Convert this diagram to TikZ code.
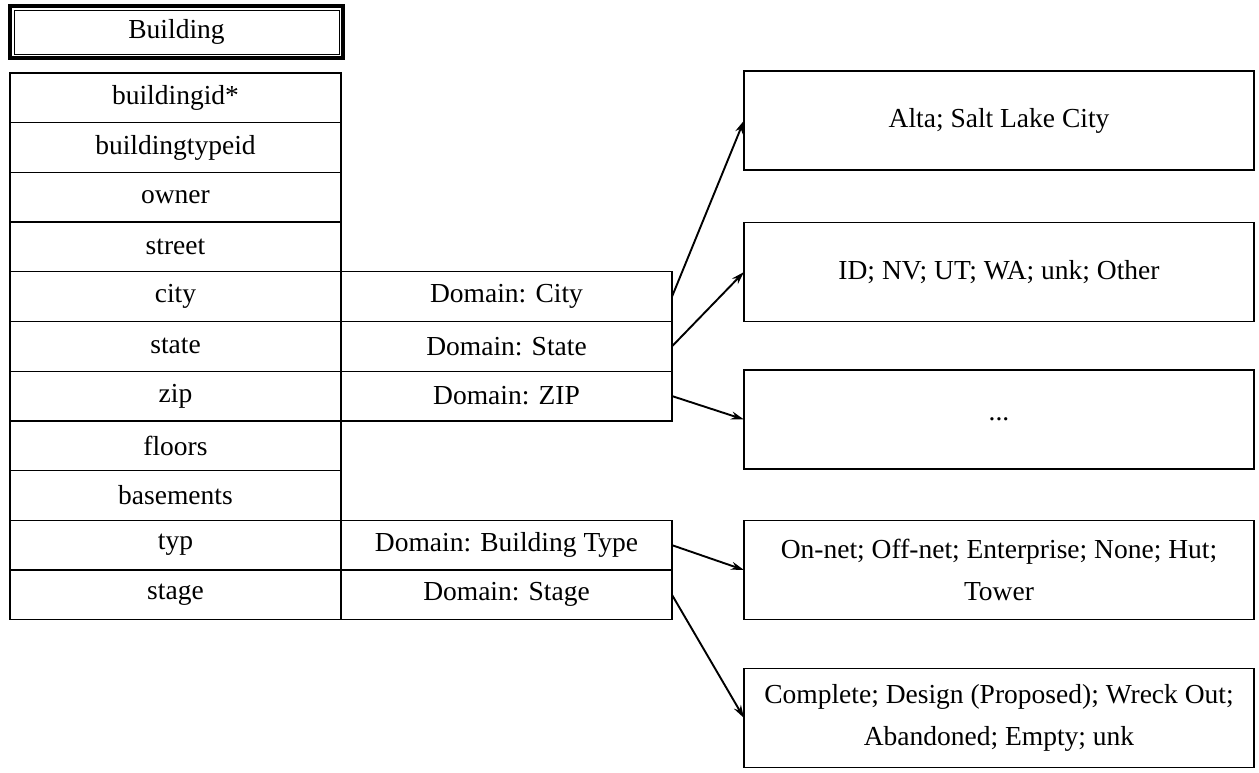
\documentclass[tikz,border=0pt]{standalone}
\usepackage{fontspec}
\setmainfont{Liberation Serif}
\usetikzlibrary{arrows.meta}

\begin{document}
\begin{tikzpicture}[x=1pt,y=-1pt]
\tikzset{field/.style={draw,rectangle,line width=1.3pt,outer sep=0pt,inner sep=0pt,minimum width=331pt,minimum height=49.7pt,font=\fontsize{27.5}{40}\selectfont}}
\tikzset{valbox/.style={draw,rectangle,line width=1.6pt,outer sep=0pt,inner sep=0pt,minimum width=510pt,minimum height=99pt,align=center,font=\fontsize{27.5}{42}\selectfont}}
\tikzset{link/.style={line width=1.9pt,-{Stealth[length=13pt,width=8pt]}}}
\useasboundingbox (0,0) rectangle (1259,772);

\node (title) at (176.5,32) [draw,line width=4pt,outer sep=0pt,minimum width=333pt,minimum height=52pt,font=\fontsize{27.5}{40}\selectfont] {Building};
\draw[line width=1pt] ([shift={(4,4)}]title.north west) rectangle ([shift={(-4,-4)}]title.south east);

\node (f1) at (175.5,97.85) [field] {buildingid*};
\node (f2) at (175.5,147.55) [field] {buildingtypeid};
\node (f3) at (175.5,197.25) [field] {owner};
\node (f4) at (175.5,246.95) [field] {street};
\node (f5) at (175.5,296.65) [field] {city};
\node (f6) at (175.5,346.35) [field] {state};
\node (f7) at (175.5,396.05) [field] {zip};
\node (f8) at (175.5,445.75) [field] {floors};
\node (f9) at (175.5,495.45) [field] {basements};
\node (f10) at (175.5,545.15) [field] {typ};
\node (f11) at (175.5,594.85) [field] {stage};

\node (d5) at (506.5,296.65) [field] {Domain: City};
\node (d6) at (506.5,346.35) [field] {Domain: State};
\node (d7) at (506.5,396.05) [field] {Domain: ZIP};
\node (d10) at (506.5,545.15) [field] {Domain: Building Type};
\node (d11) at (506.5,594.85) [field] {Domain: Stage};

\node (v1) at (999,120.5) [valbox] {Alta; Salt Lake City};
\node (v2) at (999,272) [valbox] {ID; NV; UT; WA; unk; Other};
\node (v3) at (999,419.5) [valbox] {...};
\node (v4) at (999,570) [valbox] {On-net; Off-net; Enterprise; None; Hut;\\Tower};
\node (v5) at (999,718) [valbox] {Complete; Design (Proposed); Wreck Out;\\Abandoned; Empty; unk};

\path[link]
(d5.east) edge (v1.west)
(d6.east) edge (v2.west)
(d7.east) edge (v3.west)
(d10.east) edge (v4.west)
(d11.east) edge (v5.west);
\end{tikzpicture}
\end{document}
